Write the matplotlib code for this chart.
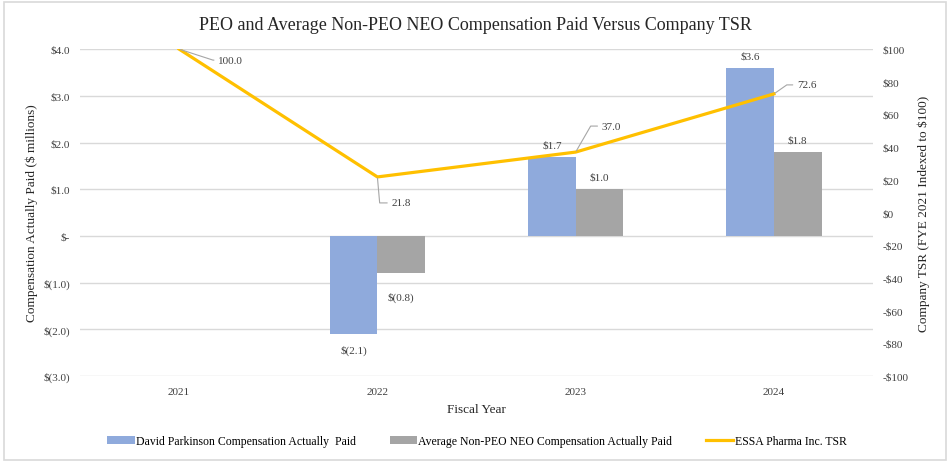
import matplotlib.pyplot as plt
import numpy as np
from matplotlib.patches import Rectangle

plt.rcParams['font.family'] = ['Liberation Serif', 'DejaVu Serif']

years = ['2021', '2022', '2023', '2024']
peo_cap = [np.nan, -2.1, 1.7, 3.6]
neo_cap = [np.nan, -0.8, 1.0, 1.8]
tsr = [100.0, 21.8, 37.0, 72.6]

left_ticks = [4.0, 3.0, 2.0, 1.0, 0.0, -1.0, -2.0, -3.0]
right_ticks = [100, 80, 60, 40, 20, 0, -20, -40, -60, -80, -100]

blue = '#8FAADC'
grey = '#A5A5A5'
gold = '#FFC000'


def money_left(v):
    if v == 0:
        return '$-'
    if v < 0:
        return '$(%.1f)' % abs(v)
    return '$%.1f' % v


def money_right(v):
    if v < 0:
        return '-$%d' % abs(v)
    return '$%d' % v


fig = plt.figure(figsize=(9.5, 4.64), dpi=100)
ax = fig.add_axes([0.0842, 0.1875, 0.8348, 0.7045])
ax2 = ax.twinx()

x = np.arange(len(years))
w = 0.24
b1 = ax.bar(x - w / 2, peo_cap, w, color=blue, label='David Parkinson Compensation Actually  Paid')
b2 = ax.bar(x + w / 2, neo_cap, w, color=grey, label='Average Non-PEO NEO Compensation Actually Paid')

ax.set_xlim(-0.5, 3.5)
ax.set_ylim(-3.0, 4.0)
ax.set_yticks(left_ticks)
ax.set_yticklabels([money_left(v) for v in left_ticks])
ax.set_xticks(x)
ax.set_xticklabels(years)
ax.yaxis.grid(True, color='#D9D9D9', linewidth=1)
ax.set_axisbelow(True)
ax.tick_params(length=0, labelsize=8, colors='#404040')
ax.tick_params(axis='y', pad=7)
ax.tick_params(axis='x', pad=8)
for s in ax.spines.values():
    s.set_visible(False)

# bar value labels
for xi, v in zip(x, peo_cap):
    if np.isnan(v):
        continue
    off = 12 if v > 0 else -16
    ax.annotate(money_left(v), (xi - w / 2, v), xytext=(0, off), textcoords='offset pixels',
                ha='center', va='center', fontsize=8, color='#404040')
for xi, v in zip(x, neo_cap):
    if np.isnan(v):
        continue
    off = 12 if v > 0 else -24
    ax.annotate(money_left(v), (xi + w / 2, v), xytext=(0, off), textcoords='offset pixels',
                ha='center', va='center', fontsize=8, color='#404040')

ln, = ax2.plot(x, tsr, color=gold, linewidth=2.3, label='ESSA Pharma Inc. TSR')
ax2.set_ylim(-100, 100)
ax2.set_yticks(right_ticks)
ax2.set_yticklabels([money_right(v) for v in right_ticks])
ax2.tick_params(length=0, labelsize=8, colors='#404040', pad=7)
for s in ax2.spines.values():
    s.set_visible(False)

# TSR labels with leader lines (offset in pixels, slope of leader at the point)
tsr_offsets = [(39, -11), (14, -26), (26, 26), (23, 9)]
tsr_leader = [-18, -85, 60, 35]
for xi, v, (dx, dy), ang in zip(x, tsr, tsr_offsets, tsr_leader):
    ax2.annotate('%.1f' % v, (xi, v), xytext=(dx, dy), textcoords='offset pixels',
                 ha='left', va='center', fontsize=8, color='#404040',
                 arrowprops=dict(arrowstyle='-', color='#A6A6A6', lw=0.8,
                                 shrinkA=1, shrinkB=1,
                                 connectionstyle='angle,angleA=0,angleB=%d,rad=0' % ang))

ax.set_ylabel('Compensation Actually Paid ($ millions)', fontsize=9.5, color='#262626', labelpad=4)
ax2.set_ylabel('Company TSR (FYE 2021 Indexed to $100)', fontsize=9.5, color='#262626', labelpad=6)
ax.set_xlabel('Fiscal Year', fontsize=9.5, color='#262626', labelpad=5)

fig.text(0.5, 0.944, 'PEO and Average Non-PEO NEO Compensation Paid Versus Company TSR',
         ha='center', va='center', fontsize=13, color='#262626')

fig.legend(handles=[b1, b2, ln], loc='center', bbox_to_anchor=(0.502, 0.047), ncol=3,
           frameon=False, fontsize=8.5, handlelength=2.3, handleheight=0.6,
           columnspacing=2.9, handletextpad=0.1)

fig.patches.append(Rectangle((0.004, 0.006), 0.992, 0.988, transform=fig.transFigure,
                             fill=False, edgecolor='#D9D9D9', linewidth=1.2))

fig.savefig('out.png', dpi=100)
